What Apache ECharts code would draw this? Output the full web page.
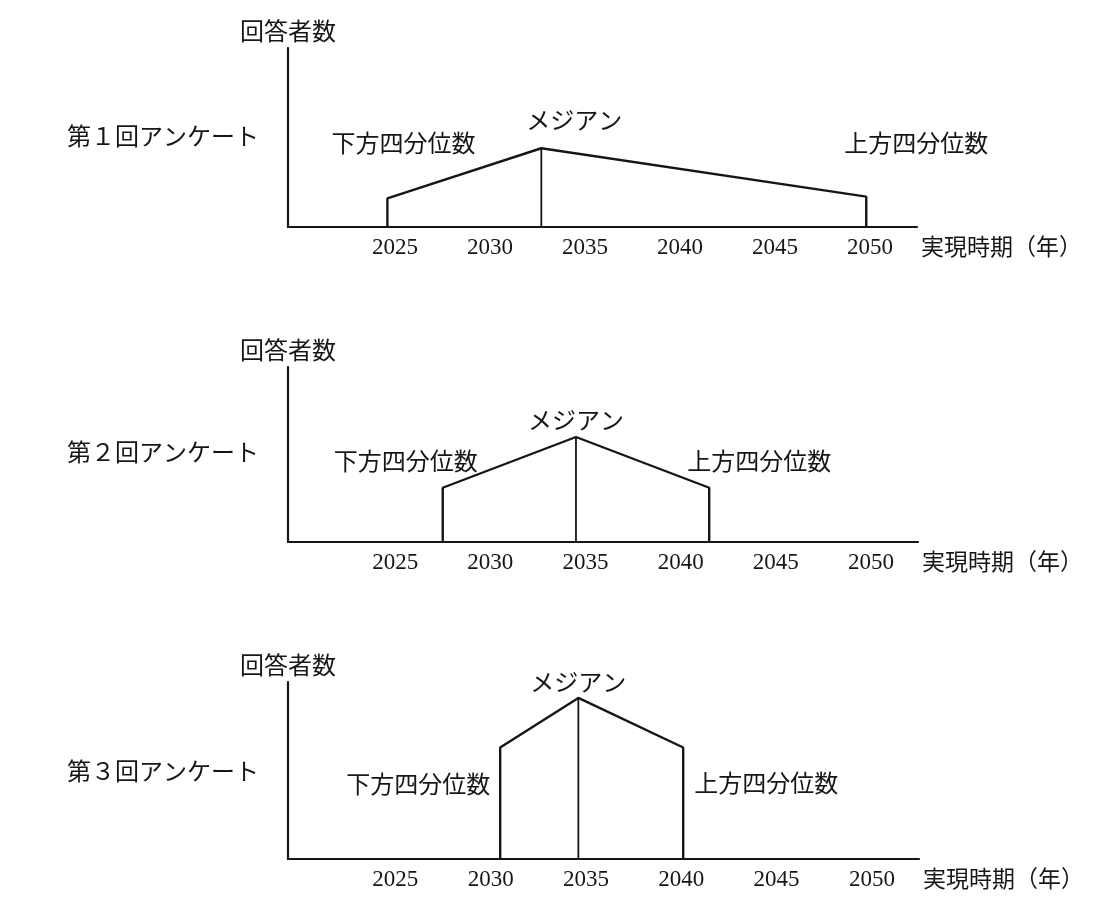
<!DOCTYPE html>
<html>
<head>
<meta charset="utf-8">
<script src="https://cdn.jsdelivr.net/npm/echarts@6/dist/echarts.min.js"></script>
<style>
  html, body { margin: 0; padding: 0; background: #fff; }
  #main { width: 1096px; height: 912px; }
</style>
</head>
<body>
<div id="main"></div>
<script>
// data
var surveys   = ['第１回アンケート', '第２回アンケート', '第３回アンケート'];
var years     = [2025, 2030, 2035, 2040, 2045, 2050];
var markNames = ['下方四分位数', 'メジアン', '上方四分位数'];

// year of lower quartile / median / upper quartile, per survey
var lowerQ  = [2024.6, 2027.5, 2030.5];
var median  = [2032.7, 2034.5, 2034.6];
var upperQ  = [2049.8, 2041.5, 2040.1];

// height of the curve (share of the axis, 0-100) at each point
var lowerH  = [16, 31, 63];
var medianH = [44, 60, 91];
var upperH  = [17, 31, 63];

var xMin = 2019.37, xMax = 2052.47;

/*************************** main ***************************/
function main() {
    var myChart = echarts.init(document.getElementById('main'));

    var ink = '#161616';
    var cjk = "'Noto Sans CJK JP', sans-serif";
    var serif = "'Liberation Serif', 'DejaVu Serif', serif";

    var grids = [
        {left: 288, top: 48,  width: 629, height: 179},
        {left: 288, top: 367, width: 630, height: 175},
        {left: 288, top: 682, width: 631, height: 177}
    ];
    var titleTops = [119, 435, 754];

    // label offsets from each point: [lower, median, upper]
    var offsets = [
        [[16, -55], [33, -28], [50, -54]],
        [[-37, -27], [0, -17], [50, -27]],
        [[-82, 36], [0, -16], [83, 35]]
    ];

    var xAxes = [], yAxes = [], series = [], titles = [];

    surveys.forEach(function (name, i) {
        titles.push({
            text: name,
            left: 62,
            top: titleTops[i],
            textStyle: {fontFamily: cjk, fontSize: 24, fontWeight: 'normal', color: ink}
        });

        xAxes.push({
            type: 'value',
            gridIndex: i,
            min: xMin,
            max: xMax,
            name: '実現時期（年）',
            nameLocation: 'end',
            nameGap: 4,
            nameTextStyle: {fontFamily: cjk, fontSize: 23, color: ink, verticalAlign: 'top', padding: [8, 0, 0, 0]},
            axisLine: {show: true, lineStyle: {color: ink, width: 2.2}},
            axisTick: {show: false},
            splitLine: {show: false},
            axisLabel: {
                customValues: years,
                formatter: function (v) { return String(v); },
                margin: 9,
                fontFamily: serif,
                fontSize: 23,
                color: ink
            }
        });

        yAxes.push({
            type: 'value',
            gridIndex: i,
            min: 0,
            max: 100,
            name: '回答者数',
            nameLocation: 'end',
            nameGap: 5,
            nameTextStyle: {fontFamily: cjk, fontSize: 24, color: ink},
            axisLine: {show: true, lineStyle: {color: ink, width: 2.2}},
            axisTick: {show: false},
            axisLabel: {show: false},
            splitLine: {show: false}
        });

        function pt(x, y, k) {
            return {
                value: [x, y],
                label: {
                    show: true,
                    formatter: markNames[k],
                    position: 'top',
                    distance: 0,
                    align: 'center',
                    verticalAlign: 'middle',
                    offset: offsets[i][k],
                    fontFamily: cjk,
                    fontSize: 24,
                    color: ink
                }
            };
        }

        series.push({
            type: 'line',
            xAxisIndex: i,
            yAxisIndex: i,
            symbol: 'circle',
            symbolSize: 0,
            showSymbol: true,
            silent: true,
            itemStyle: {color: ink},
            lineStyle: {color: ink, width: 2.4},
            data: [
                [lowerQ[i], 0],
                pt(lowerQ[i], lowerH[i], 0),
                pt(median[i], medianH[i], 1),
                pt(upperQ[i], upperH[i], 2),
                [upperQ[i], 0]
            ]
        });

        series.push({
            type: 'line',
            xAxisIndex: i,
            yAxisIndex: i,
            symbol: 'none',
            silent: true,
            lineStyle: {color: ink, width: 1.8},
            data: [[median[i], 0], [median[i], medianH[i]]]
        });
    });

    var option = {
        backgroundColor: '#fff',
        animation: false,
        title: titles,
        grid: grids,
        xAxis: xAxes,
        yAxis: yAxes,
        series: series
    };

    myChart.setOption(option);
}

main();
</script>
</body>
</html>
